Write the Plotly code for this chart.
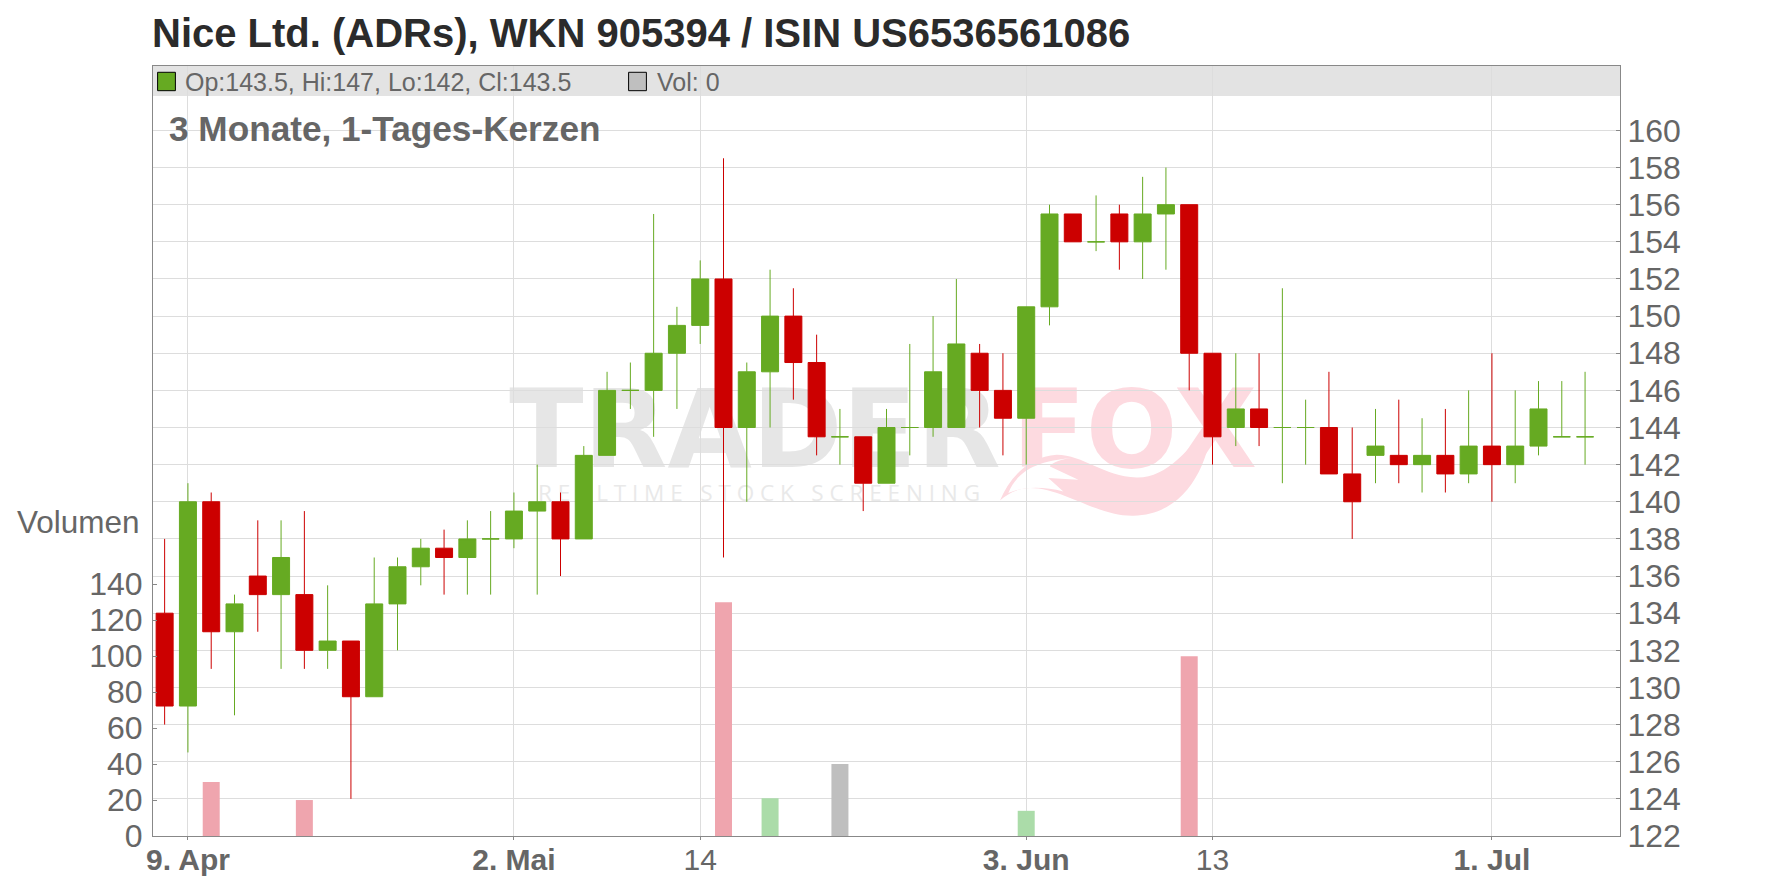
import plotly.graph_objects as go

opens = [134,129,140,133,136,135,135,132,132.5,129.5,134.5,136.5,137.5,137,138,138,139.5,140,138,142.5,146,146,148,149.5,152,144,147,150,147.5,143.5,143.5,141,144,144,144,148,146,144.5,150.5,155.5,154,155.5,154,155.5,156,148,144,145,144,144,144,141.5,142.5,142.5,142,142.5,141.5,143,142,143,143.5,143.5]
highs = [138,141,140.5,135,139,139,139.5,135.5,132.5,137,137,138,138.5,139,139.5,140.5,142,140.5,143,147,147.5,155.5,150.5,153,158.5,147.5,152.5,151.5,149,145,143.5,145,148.5,150,152,148.5,148,150.5,156,155.5,156.5,156,157.5,158,156,148,148,148,151.5,145.5,147,144,145,145.5,144.5,145,146,148,146,146.5,146.5,147]
lows = [128,126.5,131,128.5,133,131,131,131,124,129.5,132,135.5,135,135,135,137.5,135,136,138,142.5,145,143.5,145,148.5,137,140,144,145.5,142.5,142,139.5,141,142.5,143.5,144,144,142.5,142,149.5,154,153.5,152.5,152,152.5,146,142,143,143,141,142,141.5,138,141,141,140.5,140.5,141,140,141,142.5,143.5,142]
closes = [129,140,133,134.5,135,137,132,132.5,129.5,134.5,136.5,137.5,137,138,138,139.5,140,138,142.5,146,146,148,149.5,152,144,147,150,147.5,143.5,143.5,141,144,144,147,148.5,146,144.5,150.5,155.5,154,154,154,155.5,156,148,143.5,145,144,144,144,141.5,140,143,142,142.5,141.5,143,142,143,145,143.5,143.5]
volumes = [0,0,30,0,0,0,20,0,0,0,0,0,0,0,0,0,0,0,0,0,0,0,0,0,130,0,21,0,0,40,0,0,0,0,0,0,0,14,0,0,0,0,0,0,100,0,0,0,0,0,0,0,0,0,0,0,0,0,0,0,0,0]
tick_positions = [1,15,23,37,45,57]
tick_labels = ["<b>9. Apr</b>","<b>2. Mai</b>","14","<b>3. Jun</b>","13","<b>1. Jul</b>"]
price_ticks = list(range(122,161,2))
volume_ticks = [0,20,40,60,80,100,120,140]

OFF = 8
W,H = 1776-2*OFF,888-2*OFF
L,R,T,B = 153-OFF,1620-OFF,66-OFF,836.5-OFF
GREEN,RED = "#66AA22","#CC0000"
FONT = "Liberation Sans"
GREY = "#666666"
def fx(x): return (x-OFF-L)/(R-L)
def fy(y): return (B-y+OFF)/(B-T)

idx = list(range(len(opens)))
up = [i for i in idx if closes[i] >= opens[i]]
dn = [i for i in idx if closes[i] < opens[i]]
def pick(a,s): return [a[i] for i in s]

fig = go.Figure()
vcol = ["#BFBFBF" if closes[i]==opens[i] else ("#ABDCA9" if closes[i]>opens[i] else "#EFA5AE") for i in idx]
fig.add_trace(go.Bar(x=idx,y=volumes,width=0.73,marker=dict(color=vcol,line_width=0),yaxis="y",hoverinfo="skip",showlegend=False))
for s,c in ((up,GREEN),(dn,RED)):
    fig.add_trace(go.Candlestick(x=s,open=pick(opens,s),high=pick(highs,s),low=pick(lows,s),close=pick(closes,s),yaxis="y2",
        increasing=dict(line=dict(color=c,width=1),fillcolor=c),decreasing=dict(line=dict(color=c,width=1),fillcolor=c),
        whiskerwidth=0,hoverinfo="skip",showlegend=False))

def P(x,y):
    return f"{fx(1000+x/3):.5f},{fy(130+y/3):.5f}"
tail = ("M"+P(0,1112)+" C"+P(30,1040)+" "+P(90,980)+" "+P(170,975)+" C"+P(250,975)+" "+P(310,1040)+" "+P(410,1043)
        +" C"+P(500,1045)+" "+P(570,960)+" "+P(640,860)+" C"+P(630,1000)+" "+P(560,1155)+" "+P(400,1158)
        +" C"+P(290,1160)+" "+P(190,1075)+" "+P(90,1075)+" C"+P(50,1075)+" "+P(20,1095)+" "+P(0,1112)+" Z")
notch = ("M"+P(25,1090)+" C"+P(50,1030)+" "+P(100,995)+" "+P(215,985)+" C"+P(170,990)+" "+P(150,1005)+" "+P(150,1010)
         +" L"+P(235,1050)+" L"+P(145,1045)+" L"+P(190,1085)+" C"+P(130,1070)+" "+P(70,1070)+" "+P(25,1090)+" Z")

def wm(text,x0,x1,y0,y1,size,color,family):
    return dict(type="rect",xref="paper",yref="paper",x0=fx(x0),x1=fx(x1),y0=fy(y1),y1=fy(y0),layer="below",line_width=0,
                fillcolor="rgba(0,0,0,0)",label=dict(text=text,textposition="middle center",font=dict(size=size,color=color,family=family)))
shapes = [
    dict(type="rect",xref="paper",yref="paper",x0=0,x1=1,y0=fy(96),y1=1,layer="below",line_width=0,fillcolor="#E3E3E3"),
    wm("<b>TRADER</b>",508,1002,378,465,109,"#E6E6E6","DejaVu Sans"),
    wm("<b>FOX</b>",1014,1255,378,465,108,"#FDDAE0","DejaVu Sans"),
    wm("R E A L T I M E   S T O C K   S C R E E N I N G",538,980,480,508,22.5,"#E9E9E9","Open Sans"),
    dict(type="path",xref="paper",yref="paper",path=tail,layer="below",line_width=0,fillcolor="#FDDAE0"),
    dict(type="path",xref="paper",yref="paper",path=notch,layer="below",line_width=0,fillcolor="#FFFFFF"),
    dict(type="rect",xref="paper",yref="paper",x0=fx(157.6),x1=fx(175.4),y0=fy(90.7),y1=fy(72.3),line=dict(color="#000000",width=1),fillcolor=GREEN),
    dict(type="rect",xref="paper",yref="paper",x0=fx(628.6),x1=fx(646.4),y0=fy(90.7),y1=fy(72.3),line=dict(color="#000000",width=1),fillcolor="#BFBFBF"),
]
def note(text,x,y,size,color=GREY,anchor="left"):
    return dict(text=text,xref="paper",yref="paper",x=fx(x),y=fy(y),xanchor=anchor,yanchor="middle",showarrow=False,
                font=dict(size=size,color=color,family=FONT),borderpad=0)
annotations = [
    note("<b>Nice Ltd. (ADRs), WKN 905394 / ISIN US6536561086</b>",151,33,40,"#2B2B2B"),
    note("Op:143.5, Hi:147, Lo:142, Cl:143.5",184,82,25),
    note("Vol: 0",656,82,25),
    note("<b>3 Monate, 1-Tages-Kerzen</b>",168,129,35.2),
    note("Volumen",141,522,31.5,GREY,"right"),
]
fig.update_layout(
    width=W,height=H,margin=dict(l=L,r=W-R,t=T,b=H-B,pad=0),paper_bgcolor="#FFFFFF",plot_bgcolor="rgba(0,0,0,0)",
    boxgap=0.27,boxgroupgap=0,boxmode="overlay",showlegend=False,font=dict(family=FONT,color=GREY),
    shapes=shapes,annotations=annotations,
    xaxis=dict(range=[-0.5,62.5],automargin=False,tickmode="array",tickvals=tick_positions,ticktext=tick_labels,showgrid=True,gridcolor="#DDDDDD",gridwidth=1,
               ticks="outside",ticklen=3,tickcolor="#888888",showline=True,linecolor="#888888",linewidth=1,mirror=True,ticklabelstandoff=-6,
               tickfont=dict(size=30,color=GREY,family=FONT),rangeslider=dict(visible=False),zeroline=False),
    yaxis=dict(range=[0,428.2],automargin=False,tickmode="array",tickvals=volume_ticks,showgrid=False,ticks="inside",ticklen=4,tickcolor="#888888",
               showline=True,linecolor="#888888",linewidth=1,tickfont=dict(size=32,color=GREY,family=FONT),zeroline=False,ticklabelstandoff=3),
    yaxis2=dict(range=[122,163.47],automargin=False,overlaying="y",side="right",tickmode="array",tickvals=price_ticks,showgrid=True,gridcolor="#DDDDDD",gridwidth=1,
                ticks="inside",ticklen=4,tickcolor="#888888",showline=True,linecolor="#888888",linewidth=1,
                tickfont=dict(size=32,color=GREY,family=FONT),zeroline=False),
)
fig.write_html("out.html")
